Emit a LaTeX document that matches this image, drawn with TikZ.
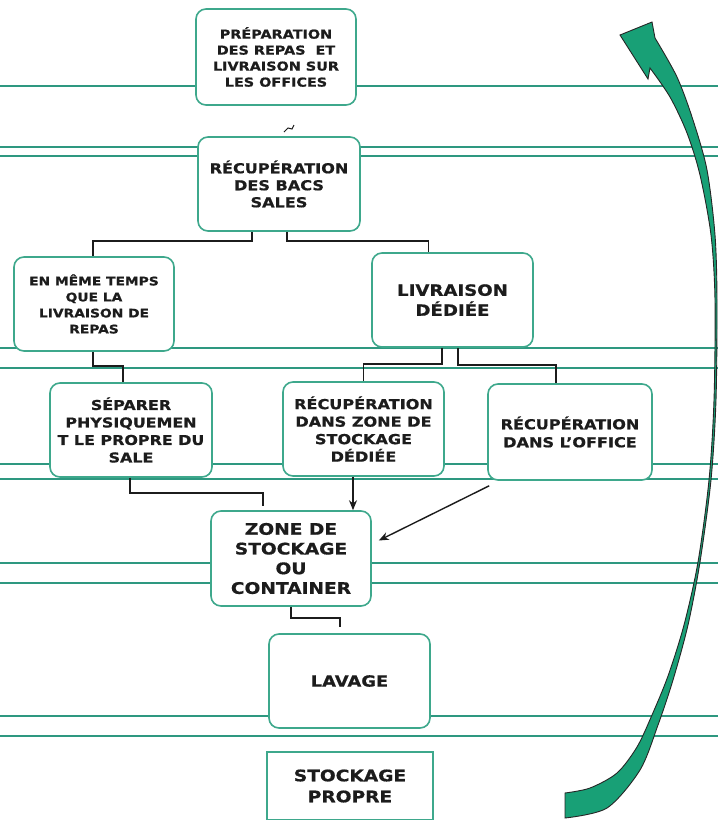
\documentclass[tikz,border=0pt]{standalone}
\usepackage{fontspec}
\newfontfamily\boxfont{DejaVu Sans Bold}[FakeStretch=1.17,FakeBold=0.8]
\usetikzlibrary{arrows.meta}
\definecolor{teal1}{RGB}{46,152,128}
\definecolor{boxline}{RGB}{62,168,140}
\definecolor{arrowgreen}{RGB}{24,160,118}
\definecolor{txt}{RGB}{28,28,28}
\begin{document}
\begin{tikzpicture}[x=1pt,y=-1pt,
  band/.style={draw=teal1, line width=1.5pt},
  proc/.style={draw=boxline, line width=1.6pt, fill=white, rounded corners=10pt,
    inner sep=0pt, align=center, text=txt},
  sqbox/.style={draw=boxline, line width=1.6pt, fill=white,
    inner sep=0pt, align=center, text=txt},
  conn/.style={draw=txt, line width=1.4pt},
  arr/.style={conn, -{Stealth[length=10pt,width=8pt]}}
]
\useasboundingbox (0,0) rectangle (718,820);
% horizontal bands
\foreach \yy in {86,147,156,348,368,464,479,563,583,716,736}{
  \draw[band] (0,\yy) -- (718,\yy);
}
% boxes
\node[proc, minimum width=160pt, minimum height=96pt,
  font={\boxfont\fontsize{12.3}{16}\selectfont}] (b1) at (276,57)
  {PRÉPARATION\\DES REPAS~ ET\\LIVRAISON SUR\\LES OFFICES};
\node[proc, minimum width=162pt, minimum height=94pt,
  font={\boxfont\fontsize{13.75}{17}\selectfont}] (b2) at (279,184)
  {RÉCUPÉRATION\\DES BACS\\SALES};
\node[proc, minimum width=160pt, minimum height=94pt,
  font={\boxfont\fontsize{11.8}{16}\selectfont}] (b3) at (94,304)
  {EN MÊME TEMPS\\QUE LA\\LIVRAISON DE\\REPAS};
\node[proc, minimum width=161pt, minimum height=94pt,
  font={\boxfont\fontsize{15.5}{20}\selectfont}] (b4) at (452.5,300)
  {LIVRAISON\\DÉDIÉE};
\node[proc, minimum width=162pt, minimum height=94pt,
  font={\boxfont\fontsize{13.6}{17.5}\selectfont}] (b5) at (131,430)
  {SÉPARER\\PHYSIQUEMEN\\T LE PROPRE DU\\SALE};
\node[proc, minimum width=161pt, minimum height=94pt,
  font={\boxfont\fontsize{13.75}{17.5}\selectfont}] (b6) at (363.5,429)
  {RÉCUPÉRATION\\DANS ZONE DE\\STOCKAGE\\DÉDIÉE};
\node[proc, minimum width=164pt, minimum height=96pt,
  font={\boxfont\fontsize{13.75}{18}\selectfont}] (b7) at (570,432)
  {RÉCUPÉRATION\\DANS L’OFFICE};
\node[proc, minimum width=160pt, minimum height=95pt,
  font={\boxfont\fontsize{15.9}{19.7}\selectfont}] (b8) at (291,558.5)
  {ZONE DE\\STOCKAGE\\OU\\CONTAINER};
\node[proc, minimum width=161pt, minimum height=94pt,
  font={\boxfont\fontsize{15.3}{20}\selectfont}] (b9) at (349.5,681)
  {LAVAGE};
\node[sqbox, minimum width=166pt, minimum height=68pt,
  font={\boxfont\fontsize{15.9}{21}\selectfont}] (b10) at (350,786)
  {STOCKAGE\\PROPRE};
% connectors
\coordinate (s1) at (284,132);
\coordinate (s2) at (288,128);
\coordinate (s3) at (292,129);
\coordinate (s4) at (294,125);
\draw[draw=txt, line width=1pt] (s1) -- (s2) -- (s3) -- (s4);
\draw[conn] ([xshift=-27pt]b2.south) -- ++(0,9) -| ([xshift=-1pt]b3.north);
\draw[conn] ([xshift=8pt]b2.south) -- ++(0,9) -| ([xshift=-24pt]b4.north);
\draw[conn] ([xshift=-1pt]b3.south) -- ++(0,14) -| ([xshift=-8pt]b5.north);
\draw[conn] ([xshift=-10.5pt]b4.south) -- ++(0,16) -| (b6.north);
\draw[conn] ([xshift=5.5pt]b4.south) -- ++(0,17) -| ([xshift=-14pt]b7.north);
\draw[conn] ([xshift=-1pt]b5.south) -- ++(0,15) -| ([xshift=-28pt,yshift=4pt]b8.north);
\draw[arr] ([xshift=-10.5pt]b6.south) -- ([xshift=62pt]b8.north);
\draw[arr] ([xshift=2pt,yshift=-5pt]b7.south west) -- ([xshift=7pt,yshift=18pt]b8.east);
\draw[conn] (b8.south) -- ++(0,11) -| ([xshift=-9.5pt,yshift=6pt]b9.north);
% big curved arrow
\filldraw[fill=arrowgreen, draw=black!85, line width=0.9pt]
  plot[smooth] coordinates {(565,793) (590,788) (617,773) (637,747) (652,715)
    (668,676) (684,625) (698,562) (709,480) (714,400) (715,300) (711,235)
    (700,175) (687,133) (670,97) (650,68)}
  -- (648,79) -- (620,35) -- (652,22)
  -- plot[smooth] coordinates {(655,38) (677,77) (693,120) (707,170) (715,235)
    (717,300) (716,400) (711,480) (700,562) (688,625) (673,680) (658,725)
    (640,770) (607,808) (565,818)}
  -- cycle;
\end{tikzpicture}
\end{document}
